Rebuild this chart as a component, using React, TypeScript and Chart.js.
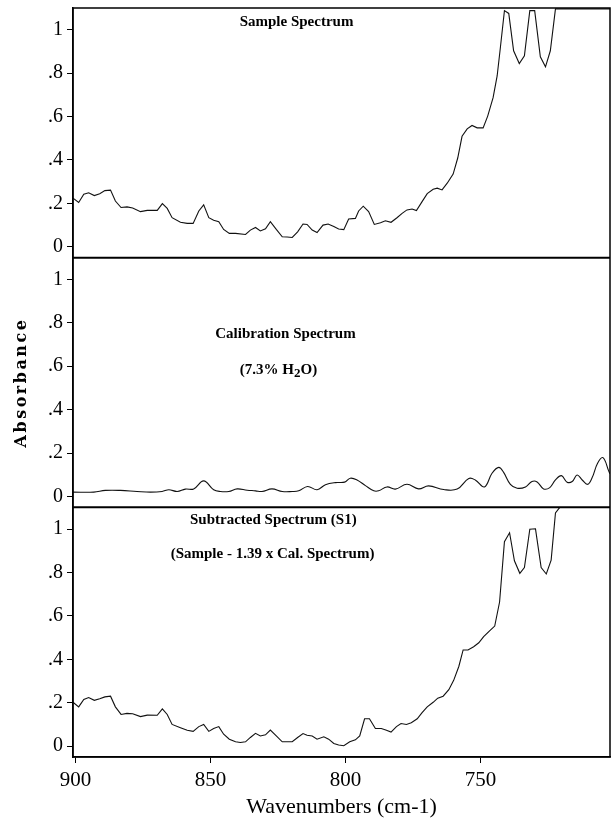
import { useEffect, useRef } from "react";
import { Chart, registerables } from "chart.js";

Chart.register(...registerables);

// Shared wavenumber axis (cm-1), drawn high-to-low
const xTickValues = [900, 850, 800, 750];
const xTickLabels = ["900", "850", "800", "750"];

// Absorbance ticks repeated on each of the three panels
const yTickValues = [0, 0.2, 0.4, 0.6, 0.8, 1];
const yTickLabels = ["0", ".2", ".4", ".6", ".8", "1"];

// Sample spectrum
const sampleWavenumbers = [
  900.9, 898.8, 896.9, 895.1, 893.0, 891.0, 889.1, 887.0, 885.2, 883.1,
  880.9, 878.8, 875.9, 873.4, 869.7, 867.8, 866.0, 864.2, 861.1, 858.6,
  856.4, 854.3, 852.5, 850.6, 848.8, 846.9, 845.1, 843.0, 840.7, 837.0,
  835.2, 833.3, 831.5, 829.6, 827.8, 825.6, 823.4, 821.6, 819.7, 817.7,
  815.7, 814.2, 812.3, 810.5, 808.3, 806.4, 804.3, 802.5, 800.6, 798.8,
  796.3, 795.1, 793.4, 791.4, 789.3, 787.0, 785.2, 783.1, 780.9, 779.0,
  777.2, 775.3, 773.7, 771.6, 769.7, 767.5, 766.0, 764.2, 762.3, 760.1,
  758.4, 756.8, 754.9, 753.1, 751.2, 749.0, 747.3, 745.3, 743.8, 742.6,
  741.1, 739.5, 737.7, 735.6, 733.7, 731.7, 729.9, 727.8, 725.9, 724.1,
  722.2, 702.0,
];
const sampleAbsorbance = [
  0.224, 0.204, 0.242, 0.249, 0.236, 0.244, 0.259, 0.261, 0.211, 0.181,
  0.184, 0.179, 0.162, 0.168, 0.168, 0.199, 0.177, 0.134, 0.113, 0.108,
  0.108, 0.165, 0.193, 0.134, 0.122, 0.116, 0.080, 0.062, 0.062, 0.057,
  0.077, 0.089, 0.073, 0.083, 0.116, 0.080, 0.046, 0.045, 0.043, 0.069,
  0.105, 0.103, 0.077, 0.066, 0.100, 0.105, 0.093, 0.082, 0.079, 0.128,
  0.131, 0.165, 0.187, 0.162, 0.103, 0.111, 0.120, 0.113, 0.134, 0.154,
  0.170, 0.174, 0.167, 0.208, 0.245, 0.265, 0.270, 0.262, 0.293, 0.335,
  0.409, 0.509, 0.543, 0.559, 0.548, 0.548, 0.602, 0.687, 0.787, 0.918,
  1.088, 1.075, 0.903, 0.844, 0.880, 1.088, 1.088, 0.875, 0.829, 0.903,
  1.096, 1.096,
];

// Calibration spectrum (7.3% H2O)
const calWavenumbers = [
  900.9, 893.2, 888.9, 883.3, 877.2, 872.2, 867.9, 865.4, 862.3, 859.3,
  856.2, 852.5, 848.8, 846.3, 843.2, 840.1, 836.4, 833.3, 830.9, 827.2,
  823.4, 819.7, 817.3, 814.0, 810.5, 807.4, 803.7, 800.3, 798.2, 795.7,
  792.6, 789.5, 787.7, 784.6, 781.5, 777.2, 772.9, 769.2, 763.6, 758.6,
  754.3, 751.9, 748.5, 745.7, 743.2, 741.4, 738.9, 736.4, 733.3, 730.9,
  729.0, 726.6, 724.3, 722.2, 720.0, 717.9, 716.0, 714.2, 712.3, 710.3,
  708.6, 706.6, 704.6, 702.5, 702.0,
];
const calAbsorbance = [
  0.020, 0.020, 0.028, 0.028, 0.023, 0.020, 0.023, 0.031, 0.023, 0.034,
  0.035, 0.072, 0.031, 0.023, 0.023, 0.035, 0.029, 0.026, 0.023, 0.035,
  0.023, 0.023, 0.026, 0.046, 0.031, 0.054, 0.064, 0.066, 0.084, 0.076,
  0.050, 0.026, 0.026, 0.044, 0.034, 0.056, 0.035, 0.049, 0.032, 0.034,
  0.083, 0.076, 0.044, 0.107, 0.134, 0.111, 0.056, 0.038, 0.044, 0.069,
  0.067, 0.035, 0.041, 0.076, 0.096, 0.066, 0.069, 0.099, 0.076, 0.056,
  0.087, 0.153, 0.179, 0.118, 0.104,
];

// Subtracted spectrum S1 = sample - 1.39 x calibration
const subWavenumbers = [
  900.9, 898.8, 896.9, 895.1, 893.0, 891.0, 889.1, 887.0, 885.2, 883.1,
  880.9, 878.8, 875.9, 873.4, 869.7, 867.8, 866.0, 864.2, 861.1, 858.6,
  856.4, 854.3, 852.5, 850.6, 848.8, 846.9, 845.1, 843.0, 840.7, 838.9,
  837.0, 835.2, 833.3, 831.5, 829.6, 827.8, 825.6, 823.4, 819.7, 817.7,
  815.7, 814.2, 812.3, 810.5, 808.0, 806.2, 804.3, 802.5, 800.6, 798.4,
  796.3, 794.7, 792.9, 791.1, 788.9, 786.7, 784.8, 783.1, 781.1, 779.4,
  777.4, 775.6, 773.4, 771.6, 769.7, 767.5, 765.8, 763.8, 761.7, 759.9,
  758.0, 756.4, 754.6, 752.5, 750.6, 748.8, 746.6, 744.7, 742.9, 741.1,
  739.2, 737.4, 735.4, 733.7, 731.7, 729.6, 727.5, 725.6, 723.8, 722.2,
  720.6,
];
const subAbsorbance = [
  0.202, 0.181, 0.215, 0.224, 0.211, 0.218, 0.227, 0.230, 0.181, 0.146,
  0.151, 0.149, 0.136, 0.143, 0.142, 0.172, 0.146, 0.100, 0.085, 0.073,
  0.068, 0.090, 0.100, 0.068, 0.081, 0.090, 0.055, 0.032, 0.020, 0.017,
  0.020, 0.040, 0.059, 0.047, 0.052, 0.074, 0.047, 0.020, 0.020, 0.040,
  0.058, 0.050, 0.047, 0.032, 0.043, 0.032, 0.012, 0.005, 0.002, 0.020,
  0.029, 0.047, 0.126, 0.126, 0.081, 0.081, 0.073, 0.065, 0.090, 0.104,
  0.100, 0.108, 0.126, 0.154, 0.181, 0.202, 0.221, 0.230, 0.260, 0.303,
  0.367, 0.443, 0.443, 0.458, 0.476, 0.504, 0.531, 0.553, 0.664, 0.942,
  0.983, 0.854, 0.796, 0.823, 0.999, 1.001, 0.823, 0.793, 0.857, 1.074,
  1.100,
];

// Panel captions, anchored in data units of their own panel
type Part = { text: string; sub?: boolean };
const panelNotes: { axis: string; wn: number; value: number; parts: Part[] }[] = [
  { axis: "yTop", wn: 818.1, value: 1.037, parts: [{ text: "Sample Spectrum" }] },
  { axis: "yMid", wn: 822.2, value: 0.748, parts: [{ text: "Calibration Spectrum" }] },
  {
    axis: "yMid",
    wn: 824.8,
    value: 0.583,
    parts: [{ text: "(7.3% H" }, { text: "2", sub: true }, { text: "O)" }],
  },
  { axis: "yBot", wn: 826.7, value: 1.041, parts: [{ text: "Subtracted Spectrum (S1)" }] },
  { axis: "yBot", wn: 827.0, value: 0.886, parts: [{ text: "(Sample - 1.39 x Cal. Spectrum)" }] },
];

const yTitle = "Absorbance";
const xTitle = "Wavenumbers (cm-1)";

const toPoints = (xs: number[], ys: number[]) => xs.map((x, i) => ({ x, y: ys[i] }));

const panelFrame = {
  id: "panelFrame",
  afterDatasetsDraw(chart: any) {
    const { ctx, chartArea: a, scales } = chart;
    ctx.save();
    ctx.strokeStyle = "#000";
    ctx.lineWidth = 1.5;
    ctx.strokeRect(a.left, a.top, a.right - a.left, a.bottom - a.top);
    ctx.lineWidth = 2;
    for (const id of ["yTop", "yMid"]) {
      const s = scales[id];
      ctx.beginPath();
      ctx.moveTo(a.left, s.bottom);
      ctx.lineTo(a.right, s.bottom);
      ctx.stroke();
    }

    // captions
    ctx.fillStyle = "#000";
    ctx.textBaseline = "middle";
    ctx.textAlign = "left";
    const mainFont = 'bold 15px "Liberation Serif"';
    const subFont = 'bold 13px "Liberation Serif"';
    for (const note of panelNotes) {
      const cx = scales.x.getPixelForValue(note.wn);
      const cy = scales[note.axis].getPixelForValue(note.value);
      let total = 0;
      for (const p of note.parts) {
        ctx.font = p.sub ? subFont : mainFont;
        total += ctx.measureText(p.text).width;
      }
      let left = cx - total / 2;
      for (const p of note.parts) {
        ctx.font = p.sub ? subFont : mainFont;
        ctx.fillText(p.text, left, cy + (p.sub ? 4 : 0));
        left += ctx.measureText(p.text).width;
      }
    }

    // axis titles
    const mid = scales.yMid;
    ctx.save();
    ctx.translate(22, (mid.top + mid.bottom) / 2);
    ctx.rotate(-Math.PI / 2);
    ctx.font = 'bold 16px "DejaVu Serif"';
    (ctx as any).letterSpacing = "2.5px";
    ctx.textAlign = "center";
    ctx.fillText(yTitle, 0, 0);
    ctx.restore();

    ctx.font = '22px "Liberation Serif"';
    ctx.textAlign = "center";
    ctx.fillText(xTitle, (a.left + a.right) / 2, 807);
    ctx.restore();
  },
};

const yAxis = () => ({
  type: "linear" as const,
  position: "left" as const,
  stack: "panels",
  stackWeight: 1,
  min: -0.05,
  max: 1.1,
  afterBuildTicks: (s: any) => {
    s.ticks = yTickValues.map((value) => ({ value }));
  },
  afterFit: (s: any) => {
    s.width = 73;
    s.paddingTop = 0;
    s.paddingBottom = 0;
  },
  ticks: {
    callback: (_v: any, i: number) => yTickLabels[i],
    font: { family: "Liberation Serif", size: 20 },
    color: "#000",
    padding: 4,
    autoSkip: false,
  },
  grid: { drawOnChartArea: false, drawTicks: true, tickLength: 6, color: "#000", lineWidth: 1 },
  border: { display: true, color: "#000", width: 1.5 },
});

export default function App() {
  const ref = useRef<HTMLCanvasElement>(null);

  useEffect(() => {
    if (!ref.current) return;
    const line = { borderColor: "#111", borderWidth: 1.1, pointRadius: 0, fill: false };
    const chart = new Chart(ref.current, {
      type: "line",
      data: {
        datasets: [
          { ...line, data: toPoints(sampleWavenumbers, sampleAbsorbance), yAxisID: "yTop", tension: 0 },
          { ...line, data: toPoints(calWavenumbers, calAbsorbance), yAxisID: "yMid", tension: 0.4 },
          { ...line, data: toPoints(subWavenumbers, subAbsorbance), yAxisID: "yBot", tension: 0 },
        ],
      },
      options: {
        responsive: false,
        animation: false,
        devicePixelRatio: 1,
        layout: { padding: { top: 8, right: 3, left: 0, bottom: 0 } },
        plugins: { legend: { display: false }, tooltip: { enabled: false } },
        events: [],
        scales: {
          x: {
            type: "linear",
            position: "bottom",
            reverse: true,
            min: 702,
            max: 900.9,
            afterBuildTicks: (s: any) => {
              s.ticks = xTickValues.map((value) => ({ value }));
            },
            afterFit: (s: any) => {
              s.height = 61;
              s.paddingLeft = 0;
              s.paddingRight = 0;
            },
            ticks: {
              callback: (_v: any, i: number) => xTickLabels[i],
              font: { family: "Liberation Serif", size: 21 },
              color: "#000",
              padding: 5,
              maxRotation: 0,
              autoSkip: false,
            },
            grid: { drawOnChartArea: false, tickLength: 6, color: "#000" },
            border: { color: "#000", width: 1.5 },
          },
          yBot: yAxis(),
          yMid: yAxis(),
          yTop: yAxis(),
        },
      },
      plugins: [panelFrame],
    });
    return () => chart.destroy();
  }, []);

  return (
    <div style={{ position: "fixed", left: 0, top: 0, width: 613, height: 818, background: "#fff" }}>
      <canvas ref={ref} width={613} height={818} style={{ display: "block" }} />
    </div>
  );
}
